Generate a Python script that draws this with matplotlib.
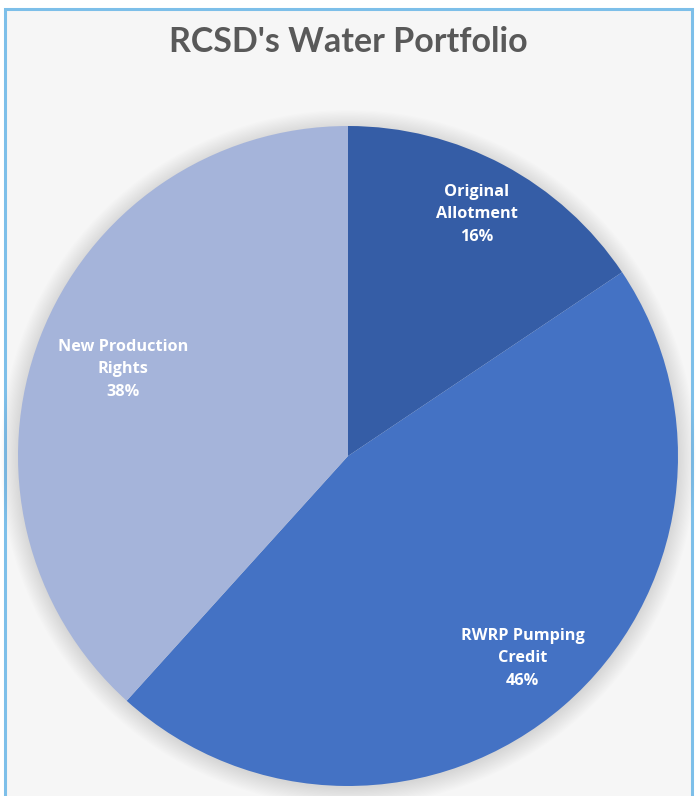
import matplotlib
matplotlib.use("Agg")
import matplotlib.pyplot as plt
import matplotlib.patches as mpatches
import numpy as np

categories = ["Original\nAllotment", "RWRP Pumping\nCredit", "New Production\nRights"]
shares = [15.6, 46.1, 38.3]
colors = ["#355DA6", "#4472C4", "#A5B4DA"]
label_dist = [0.83, 0.81, 0.73]
title = "RCSD's Water Portfolio"

W, H = 696, 796
fig = plt.figure(figsize=(W / 100, H / 100), dpi=100)
fig.patch.set_facecolor("white")
ax = fig.add_axes([0, 0, 1, 1])
ax.set_xlim(0, W)
ax.set_ylim(0, H)
ax.axis("off")

# chart area background and border
bg = mpatches.Rectangle((5, -10), 687, H - 9 + 10, facecolor="#F6F6F6",
                        edgecolor="#7DBFE9", linewidth=2.2, zorder=0)
ax.add_patch(bg)

cx, cy, R = 348, H - 456, 330

# soft shadow around the pie
for i in range(16):
    r = R + 18 - i * 1.2
    ax.add_patch(mpatches.Circle((cx, cy - 2), r, facecolor="#000000",
                                 alpha=0.009, edgecolor="none", zorder=1))

wedges, _ = ax.pie(shares, colors=colors, startangle=90, counterclock=False,
                   center=(cx, cy), radius=R, frame=True,
                   wedgeprops=dict(linewidth=0, zorder=2))
ax.set_xlim(0, W)
ax.set_ylim(0, H)
ax.set_aspect("equal")
ax.axis("off")

total = sum(shares)
for w, cat, s, d in zip(wedges, categories, shares, label_dist):
    ang = np.deg2rad((w.theta1 + w.theta2) / 2)
    x = cx + d * R * np.cos(ang)
    y = cy + d * R * np.sin(ang)
    ax.text(x, y, f"{cat}\n{round(s / total * 100):.0f}%", ha="center", va="center",
            color="white", fontsize=11.7, fontweight="bold", family="Open Sans",
            linespacing=1.55, zorder=5)

ax.text(W / 2, H - 52.5, title, ha="center", va="baseline", color="#595959",
        fontsize=24.5, fontweight="bold", family="Lato", zorder=5)

fig.savefig("out.png", dpi=100, facecolor="white")
